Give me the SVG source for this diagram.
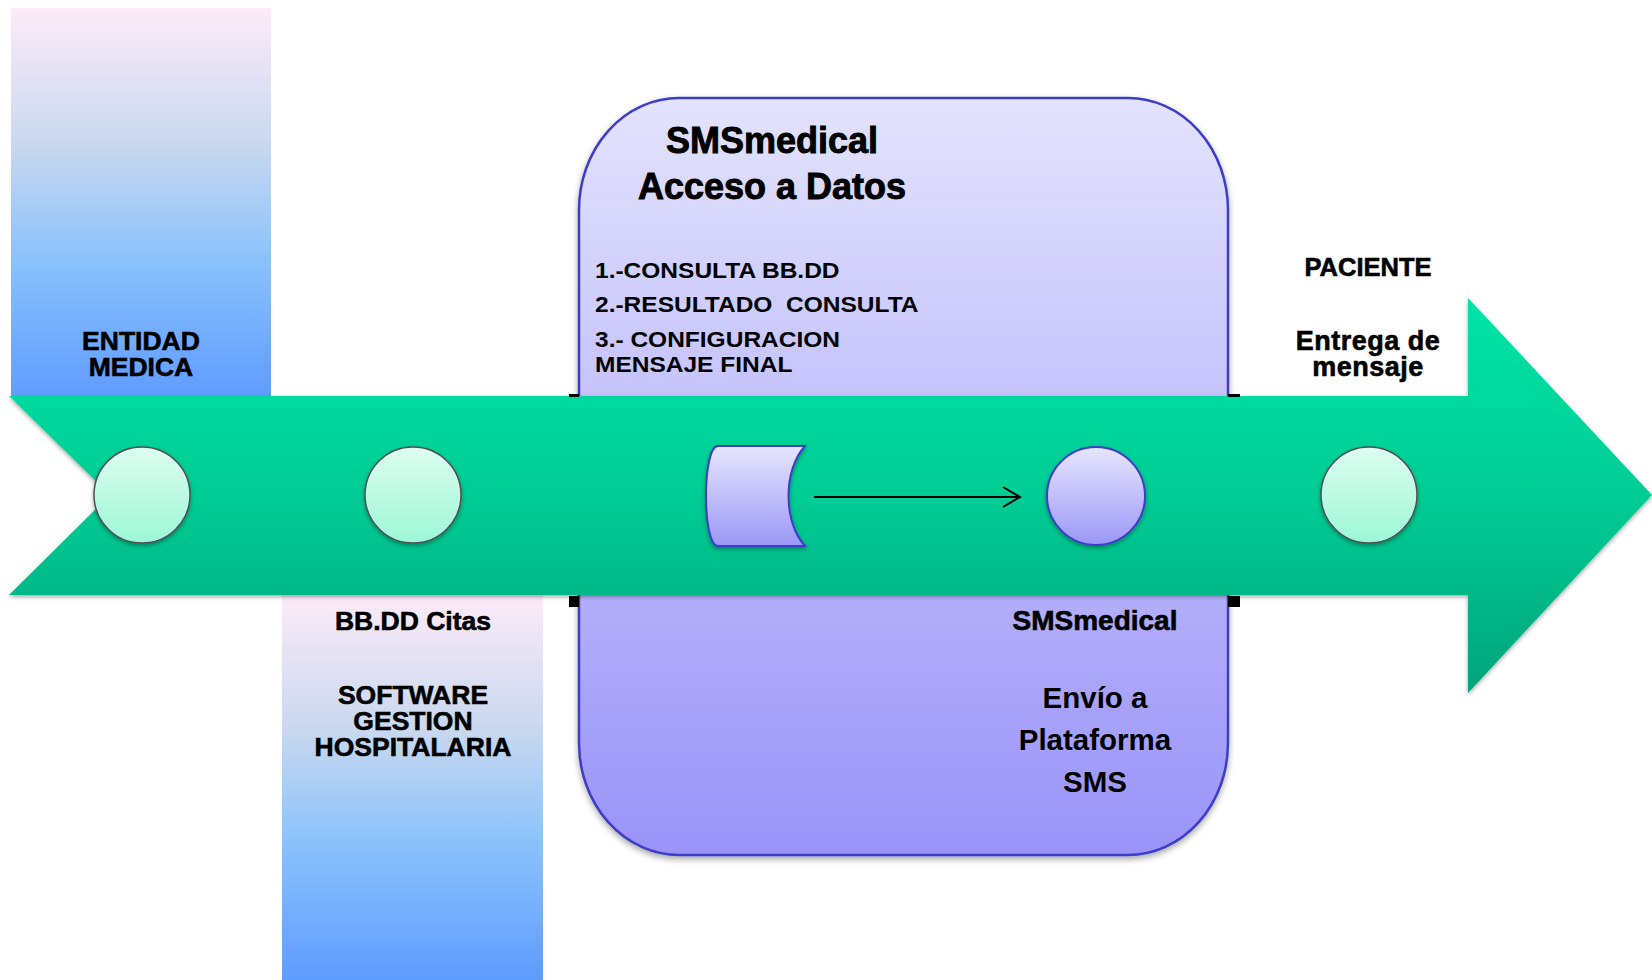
<svg xmlns="http://www.w3.org/2000/svg" width="1652" height="980" viewBox="0 0 1652 980">
<defs>
<linearGradient id="gCol" x1="0" y1="0" x2="0" y2="1">
<stop offset="0" stop-color="#FDEBF8"/>
<stop offset="0.35" stop-color="#C9D8EF"/>
<stop offset="0.65" stop-color="#89C1FC"/>
<stop offset="1" stop-color="#5F9CFF"/>
</linearGradient>
<linearGradient id="gBox" gradientUnits="userSpaceOnUse" x1="0" y1="98" x2="0" y2="855">
<stop offset="0" stop-color="#E3E3FD"/>
<stop offset="1" stop-color="#9993F8"/>
</linearGradient>
<linearGradient id="gLav" x1="0" y1="0" x2="0" y2="1">
<stop offset="0" stop-color="#E6E6FE"/>
<stop offset="1" stop-color="#9B97F6"/>
</linearGradient>
<linearGradient id="gArrow" gradientUnits="userSpaceOnUse" x1="0" y1="298" x2="0" y2="693">
<stop offset="0" stop-color="#00E4A6"/>
<stop offset="0.5" stop-color="#00CD95"/>
<stop offset="1" stop-color="#00A47B"/>
</linearGradient>
<linearGradient id="gMint" x1="0" y1="0" x2="0" y2="1">
<stop offset="0" stop-color="#DDFDF0"/>
<stop offset="1" stop-color="#9CF7D6"/>
</linearGradient>
<filter id="sh" x="-20%" y="-20%" width="140%" height="140%">
<feDropShadow dx="0" dy="3" stdDeviation="3" flood-color="#000" flood-opacity="0.35"/>
</filter>
<filter id="shs" x="-20%" y="-20%" width="140%" height="140%">
<feDropShadow dx="0" dy="2" stdDeviation="2" flood-color="#000" flood-opacity="0.35"/>
</filter>
<marker id="chev" markerWidth="20" markerHeight="24" refX="18" refY="11" orient="auto" markerUnits="userSpaceOnUse">
<path d="M1,1 L18,11 L1,21" fill="none" stroke="#000" stroke-width="2"/>
</marker>
<style>
.fut{font-family:"Liberation Sans",Arial,sans-serif;font-weight:bold;fill:#000;text-anchor:middle;stroke:#000;stroke-width:0.6}
.big{stroke-width:0.9}
.ari{font-family:"Liberation Sans",Arial,sans-serif;font-weight:bold;fill:#000}
.mint{fill:url(#gMint);stroke:#505050;stroke-width:1.5}
.lav{fill:url(#gLav);stroke:#3C3CC8;stroke-width:2}
.mark{fill:#000}
</style>
</defs>
<rect width="1652" height="980" fill="#FFFFFF"/>

<g id="entidad-medica">
<rect x="11" y="8" width="260" height="390" fill="url(#gCol)"/>
<text class="fut" x="141" y="350" font-size="26.5">ENTIDAD</text>
<text class="fut" x="141" y="376" font-size="26.5">MEDICA</text>
</g>

<g id="software-gestion">
<rect x="282" y="594" width="261" height="386" fill="url(#gCol)"/>
<text class="fut" x="413" y="630" font-size="26.5">BB.DD Citas</text>
<text class="fut" x="413" y="704" font-size="26.5">SOFTWARE</text>
<text class="fut" x="413" y="730" font-size="26.5">GESTION</text>
<text class="fut" x="413" y="756" font-size="26.5">HOSPITALARIA</text>
</g>

<g id="smsmedical-box">
<rect x="579" y="98" width="649" height="757" rx="100" ry="112" fill="url(#gBox)" stroke="#3C3CC8" stroke-width="2.5" filter="url(#sh)"/>
<text class="fut big" x="772" y="153" font-size="36">SMSmedical</text>
<text class="fut big" x="772" y="199" font-size="36">Acceso a Datos</text>
<text class="ari" font-size="21.5" transform="matrix(1.14 0 0 1 595 278)">1.-CONSULTA BB.DD</text>
<text class="ari" font-size="21.5" style="white-space:pre" transform="matrix(1.14 0 0 1 595 312)">2.-RESULTADO  CONSULTA</text>
<text class="ari" font-size="21.5" transform="matrix(1.14 0 0 1 595 347)">3.- CONFIGURACION</text>
<text class="ari" font-size="21.5" transform="matrix(1.14 0 0 1 595 372)">MENSAJE FINAL</text>
<text class="fut" x="1095" y="630" font-size="28">SMSmedical</text>
<text class="ari" x="1095" y="708" font-size="29.5" text-anchor="middle">Envío a</text>
<text class="ari" x="1095" y="750" font-size="29.5" text-anchor="middle">Plataforma</text>
<text class="ari" x="1095" y="792" font-size="29.5" text-anchor="middle">SMS</text>
</g>

<g id="timeline-arrow">
<polygon points="9,396 1468,396 1468,298 1652,495 1468,693 1468,595 9,595 110,495" fill="url(#gArrow)" filter="url(#shs)"/>
<rect class="mark" x="569" y="394" width="10" height="3"/>
<rect class="mark" x="569" y="596" width="10" height="11"/>
<rect class="mark" x="1228" y="394" width="12" height="3"/>
<rect class="mark" x="1228" y="596" width="12" height="11"/>
</g>

<g id="paciente">
<text class="fut" x="1368" y="276" font-size="25.5">PACIENTE</text>
<text class="fut" x="1368" y="350" font-size="27" letter-spacing="0.5">Entrega de</text>
<text class="fut" x="1368" y="376" font-size="27" letter-spacing="0.5">mensaje</text>
</g>

<g id="node-entidad"><circle class="mint" cx="142" cy="495" r="48" filter="url(#shs)"/></g>
<g id="node-bbdd"><circle class="mint" cx="413" cy="495" r="48" filter="url(#shs)"/></g>
<g id="node-datos"><path class="lav" d="M718,446 H805 C783,470 783,522 805,546 H718 C702,546 702,446 718,446 Z" filter="url(#shs)"/></g>
<g id="node-sms"><circle class="lav" cx="1096" cy="496" r="49" filter="url(#shs)"/></g>
<g id="node-paciente"><circle class="mint" cx="1369" cy="495" r="48" filter="url(#shs)"/></g>

<g id="connectors">
<line x1="814" y1="497" x2="1020" y2="497" stroke="#000" stroke-width="2" marker-end="url(#chev)"/>
</g>
</svg>
